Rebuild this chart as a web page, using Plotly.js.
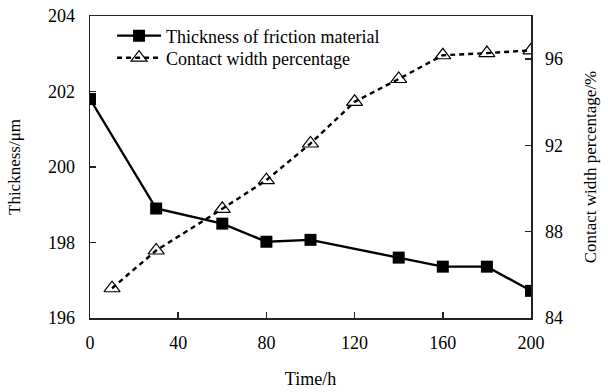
<!DOCTYPE html>
<html>
<head>
<meta charset="utf-8">
<script src="https://cdn.plot.ly/plotly-3.0.1.min.js"></script>
<style>html,body{margin:0;padding:0;background:#fff;}#chart{width:608px;height:392px;}</style>
</head>
<body>
<div id="chart"></div>
<script>
const thickTime = [0, 30, 60, 80, 100, 140, 160, 180, 200];
const thickness = [201.8, 198.9, 198.5, 198.02, 198.07, 197.6, 197.36, 197.36, 196.72];
const contactTime = [10, 30, 60, 80, 100, 120, 140, 160, 180, 200];
const contactPct = [85.38, 87.13, 89.06, 90.39, 92.09, 94.02, 95.08, 96.18, 96.28, 96.41];
const xTicks = [0, 40, 80, 120, 160, 200];
const yLeftTicks = [196, 198, 200, 202, 204];
const yRightTicks = [84, 88, 92, 96];

const font = {family: '"Liberation Serif", "Times New Roman", serif', color: '#000'};

const traces = [
  {
    x: thickTime, y: thickness, name: 'Thickness of friction material',
    type: 'scatter', mode: 'lines+markers',
    line: {color: '#000', width: 2.4, dash: 'solid'},
    marker: {symbol: 'square', size: 12, color: '#000'},
    yaxis: 'y', legend: 'legend'
  },
  {
    x: contactTime, y: contactPct, name: 'Contact width percentage',
    type: 'scatter', mode: 'lines+markers',
    line: {color: '#000', width: 2.4, dash: '5px,4px'},
    marker: {symbol: 'triangle-up-open', size: 14, color: '#000', line: {width: 1.2, color: '#000'}},
    yaxis: 'y2', legend: 'legend2'
  }
];

const axBase = {
  showgrid: false, zeroline: false, showline: true, linecolor: '#222', linewidth: 1.5,
  ticks: 'inside', ticklen: 6, tickwidth: 1.5, tickcolor: '#222',
  tickfont: Object.assign({size: 18}, font)
};

const legBase = {xanchor: 'left', yanchor: 'middle', bgcolor: 'rgba(0,0,0,0)',
  font: Object.assign({size: 18}, font), itemwidth: 44};

const layout = {
  width: 608, height: 392,
  margin: {l: 90, r: 77, t: 16, b: 74},
  paper_bgcolor: '#fff', plot_bgcolor: '#fff',
  font: font,
  showlegend: true,
  legend: Object.assign({}, legBase, {x: 0.05, y: 0.934}),
  legend2: Object.assign({}, legBase, {x: 0.05, y: 0.861}),
  xaxis: Object.assign({}, axBase, {
    range: [0, 200], tickvals: xTicks, mirror: true, ticklabelstandoff: 8,
    title: {text: 'Time/h', font: Object.assign({size: 18}, font), standoff: 20}
  }),
  yaxis: Object.assign({}, axBase, {
    range: [196, 204], tickvals: yLeftTicks, mirror: false, ticklabelstandoff: 10,
    title: {text: 'Thickness/μm', font: Object.assign({size: 17}, font), standoff: 23}
  }),
  yaxis2: Object.assign({}, axBase, {
    range: [84, 98], tickvals: yRightTicks, overlaying: 'y', side: 'right', ticklabelstandoff: 9,
    title: {text: 'Contact width percentage/%', font: Object.assign({size: 17}, font), standoff: 22}
  })
};

Plotly.newPlot('chart', traces, layout, {displayModeBar: false, staticPlot: true});
</script>
</body>
</html>
